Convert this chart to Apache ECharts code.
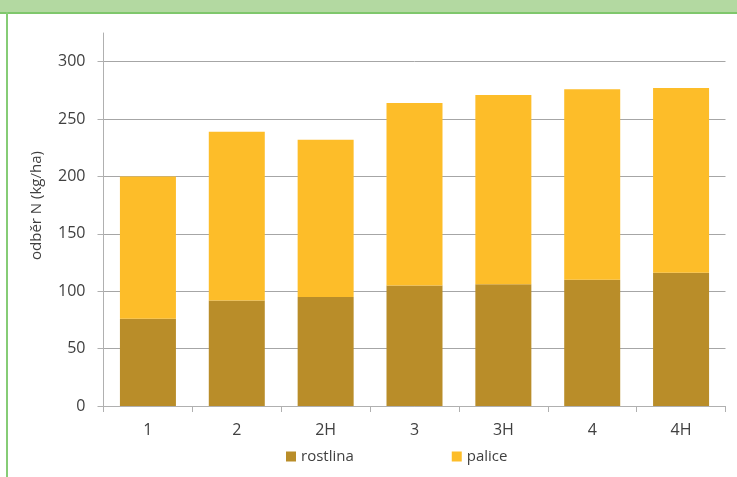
<!DOCTYPE html>
<html><head><meta charset="utf-8">
<script src="https://cdn.jsdelivr.net/npm/echarts@6/dist/echarts.min.js"></script>
<style>html,body{margin:0;padding:0;background:#fff}#c{width:737px;height:477px}</style>
</head><body><div id="c"></div>
<script>
const categories = ['1','2','2H','3','3H','4','4H'];
const rostlina = [76, 92, 95, 105, 106, 110, 116];
const palice = [124, 147, 137, 159, 165, 166, 161];
const yTickLabels = [0, 50, 100, 150, 200, 250, 300];
const yMax = 325;
const yStep = 25;
const seriesNames = ['rostlina', 'palice'];
const axisTitle = 'odběr N (kg/ha)';

const txt = '#404040';
const font = 'Open Sans';
const chart = echarts.init(document.getElementById('c'), null, {renderer: 'canvas'});
chart.setOption({
  animation: false,
  textStyle: {fontFamily: font},
  graphic: [
    {type: 'rect', shape: {x: 0, y: 0, width: 737, height: 12}, style: {fill: '#b3d9a1'}, silent: true},
    {type: 'rect', shape: {x: 0, y: 12, width: 737, height: 2}, style: {fill: '#7fc76c'}, silent: true},
    {type: 'rect', shape: {x: 6, y: 12, width: 2, height: 465}, style: {fill: '#86cc76'}, silent: true}
  ],
  grid: {left: 103.5, right: 11.5, top: 33, bottom: 71, containLabel: false},
  legend: {
    data: seriesNames, top: 444, left: 281, icon: 'rect', itemWidth: 10, itemHeight: 10,
    itemGap: 98, textStyle: {color: txt, fontSize: 15, fontFamily: font}
  },
  xAxis: {
    type: 'category', data: categories,
    axisLine: {lineStyle: {color: '#b0b0b0', width: 1}},
    axisTick: {show: true, length: 6, alignWithLabel: false, lineStyle: {color: '#b0b0b0'}},
    axisLabel: {color: txt, fontSize: 16, margin: 16, fontFamily: font}
  },
  yAxis: {
    type: 'value', min: 0, max: yMax, interval: yStep,
    name: axisTitle, nameLocation: 'middle', nameGap: 59, nameRotate: 90,
    nameTextStyle: {color: txt, fontSize: 15, fontFamily: font, padding: [0, 0, 0, 28]},
    axisLine: {show: true, lineStyle: {color: '#b0b0b0', width: 1}},
    axisTick: {show: true, length: 6, customValues: yTickLabels, lineStyle: {color: '#b0b0b0'}},
    axisLabel: {color: txt, fontSize: 16, margin: 18, fontFamily: font, customValues: yTickLabels},
    splitLine: {show: true, lineStyle: {color: '#a6a6a6', width: 1}}
  },
  series: [
    {name: seriesNames[0], type: 'bar', stack: 's', data: rostlina, barWidth: 56,
     itemStyle: {color: '#b98d29'}},
    {name: seriesNames[1], type: 'bar', stack: 's', data: palice, barWidth: 56,
     itemStyle: {color: '#fdbd29'}}
  ]
});
</script></body></html>
